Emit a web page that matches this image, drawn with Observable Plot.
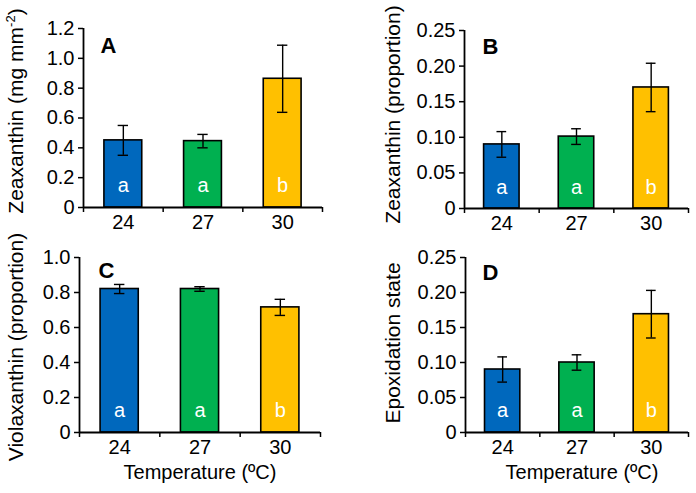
<!DOCTYPE html>
<html>
<head>
<meta charset="utf-8">
<script src="https://cdn.jsdelivr.net/npm/d3@7"></script>
<script src="https://cdn.jsdelivr.net/npm/@observablehq/plot@0.6"></script>
<style>
  body { margin: 0; background: white; }
  #wrap { position: relative; width: 696px; height: 493px; background: white; overflow: hidden; }
  .panel { position: absolute; }
</style>
</head>
<body>
<div id="wrap"></div>
<script>
// ---- data ----
const temperatures = ["24", "27", "30"];
const groupLetters = ["a", "a", "b"];
const barColors = ["#0068BD", "#00B050", "#FFC000"];

const zeaxAbsMean = [0.45, 0.445, 0.863];
const zeaxAbsErr  = [0.10, 0.045, 0.225];

const zeaxPropMean = [0.090, 0.101, 0.170];
const zeaxPropErr  = [0.018, 0.011, 0.034];

const violaPropMean = [0.820, 0.820, 0.715];
const violaPropErr  = [0.026, 0.013, 0.046];

const epoxMean = [0.090, 0.100, 0.169];
const epoxErr  = [0.018, 0.011, 0.034];

const ticksA = [0, 0.2, 0.4, 0.6, 0.8, 1.0, 1.2];
const ticksB = [0, 0.05, 0.10, 0.15, 0.20, 0.25];
const ticksC = [0, 0.2, 0.4, 0.6, 0.8, 1.0];

const FONT = "Liberation Sans, Arial, Helvetica, sans-serif";

function panel(cfg) {
  const rows = temperatures.map((t, i) => ({
    i, t, mean: cfg.mean[i], lo: cfg.mean[i] - cfg.err[i], hi: cfg.mean[i] + cfg.err[i],
    color: barColors[i], letter: groupLetters[i]
  }));
  const ymax = cfg.ticks[cfg.ticks.length - 1];
  const marks = [
    Plot.rectY(rows, {x1: d => d.i + 0.2625, x2: d => d.i + 0.7375, y1: 0, y2: "mean",
      fill: "color", stroke: "black", strokeWidth: 1.6}),
    Plot.ruleX(rows, {x: d => d.i + 0.5, y1: "lo", y2: "hi", stroke: "black", strokeWidth: 1.4}),
    Plot.ruleY(rows, {y: "lo", x1: d => d.i + 0.5 - 0.065, x2: d => d.i + 0.5 + 0.065, stroke: "black", strokeWidth: 1.4}),
    Plot.ruleY(rows, {y: "hi", x1: d => d.i + 0.5 - 0.065, x2: d => d.i + 0.5 + 0.065, stroke: "black", strokeWidth: 1.4}),
    Plot.text(rows, {x: d => d.i + 0.5, y: 0, dy: -cfg.letterDy, text: "letter", fill: "white",
      fontSize: 20, lineAnchor: "middle"}),
    Plot.ruleX([0], {stroke: "black", strokeWidth: 1.8}),
    Plot.ruleY([0], {stroke: "black", strokeWidth: 1.8}),
    Plot.axisY({ticks: cfg.ticks, tickFormat: cfg.fmt, tickSize: 5, tickPadding: 4,
      fontSize: 20, strokeWidth: 1.5, label: null}),
    Plot.axisX({ticks: [0, 1, 2, 3], tickFormat: () => "", tickSize: 5, strokeWidth: 1.5, label: null}),
    Plot.axisX({ticks: [0.5, 1.5, 2.5], tickFormat: v => temperatures[Math.floor(v)], tickSize: 0,
      tickPadding: 7, fontSize: 20, label: null}),
    Plot.text([cfg.letter], {frameAnchor: "top-left", dx: cfg.letterX, dy: cfg.letterY,
      fontWeight: "bold", fontSize: 22, textAnchor: "start", lineAnchor: "middle"}),
    Plot.text([cfg.title], {frameAnchor: "left", rotate: -90, dx: cfg.titleDx, dy: cfg.titleDy,
      fontSize: 21, lineAnchor: "middle", textAnchor: "middle"})
  ];
  if (cfg.xTitle) {
    marks.push(Plot.text([cfg.xTitle], {frameAnchor: "bottom", dx: cfg.xTitleDx || 0, dy: 40,
      fontSize: 20, lineAnchor: "middle"}));
  }
  const svg = Plot.plot({
    width: 348,
    height: cfg.height,
    marginLeft: cfg.ml, marginRight: cfg.mr, marginTop: cfg.mt, marginBottom: cfg.mb,
    x: {domain: [0, 3], axis: null},
    y: {domain: [0, ymax], axis: null},
    style: {fontFamily: FONT, fontSize: "20px", background: "white", color: "black", overflow: "visible"},
    marks
  });
  if (cfg.superscript) {
    svg.querySelectorAll("text").forEach(t => {
      if (t.textContent === cfg.title) {
        const [pre, sup, post] = cfg.superscript;
        const target = t.querySelector("tspan") || t;
        target.textContent = "";
        const ns = "http://www.w3.org/2000/svg";
        const a = document.createElementNS(ns, "tspan"); a.textContent = pre;
        const b = document.createElementNS(ns, "tspan"); b.textContent = sup;
        b.setAttribute("font-size", "13"); b.setAttribute("dy", "-8");
        const c = document.createElementNS(ns, "tspan"); c.textContent = post; c.setAttribute("dy", "8");
        target.appendChild(a); target.appendChild(b); target.appendChild(c);
      }
    });
  }
  svg.classList.add("panel");
  svg.style.left = cfg.left + "px";
  svg.style.top = cfg.top + "px";
  document.getElementById("wrap").appendChild(svg);
}

const fmt1 = v => v === 0 ? "0" : v.toFixed(1);
const fmt2 = v => v === 0 ? "0" : v.toFixed(2);

panel({left: 0, top: 0, height: 246, ml: 83, mr: 26, mt: 28, mb: 39,
  mean: zeaxAbsMean, err: zeaxAbsErr, ticks: ticksA, fmt: fmt1,
  letter: "A", letterX: 17, letterY: 17, letterDy: 22,
  title: "Zeaxanthin (mg mm-2)", superscript: ["Zeaxanthin (mg mm", "-2", ")"],
  titleDx: -67, titleDy: -7});

panel({left: 348, top: 0, height: 246, ml: 116, mr: 8, mt: 30, mb: 38,
  mean: zeaxPropMean, err: zeaxPropErr, ticks: ticksB, fmt: fmt2,
  letter: "B", letterX: 18, letterY: 16, letterDy: 21,
  title: "Zeaxanthin (proportion)", titleDx: -71, titleDy: -5});

panel({left: 0, top: 246, height: 247, ml: 79, mr: 28, mt: 11, mb: 61,
  mean: violaPropMean, err: violaPropErr, ticks: ticksC, fmt: fmt1,
  letter: "C", letterX: 19, letterY: 13, letterDy: 22,
  title: "Violaxanthin (proportion)", titleDx: -63, titleDy: 2,
  xTitle: "Temperature (ºC)"});

panel({left: 348, top: 246, height: 247, ml: 117, mr: 8, mt: 11, mb: 61,
  mean: epoxMean, err: epoxErr, ticks: ticksB, fmt: fmt2,
  letter: "D", letterX: 17, letterY: 15, letterDy: 22,
  title: "Epoxidation state", titleDx: -72, titleDy: -2,
  xTitle: "Temperature (ºC)", xTitleDx: 5});
</script>
</body>
</html>
